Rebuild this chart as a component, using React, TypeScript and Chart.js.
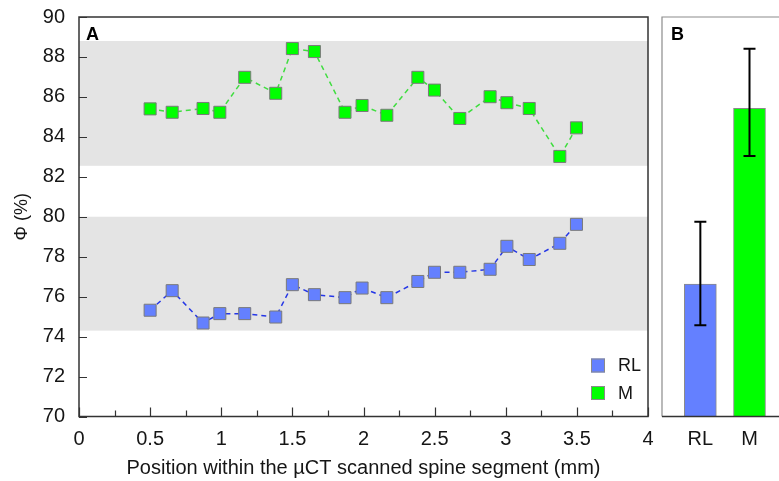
import React, { useEffect, useRef } from 'react';
import { Chart, registerables } from 'chart.js';

Chart.register(...registerables);

// ---------- data ----------
const positions = [0.5, 0.655, 0.872, 0.99, 1.165, 1.383, 1.5, 1.655, 1.87, 1.99, 2.164, 2.382, 2.499, 2.677, 2.89, 3.008, 3.165, 3.38, 3.497];
const rlValues = [75.32, 76.3, 74.68, 75.15, 75.15, 74.98, 76.6, 76.1, 75.95, 76.43, 75.95, 76.76, 77.22, 77.22, 77.37, 78.52, 77.86, 78.67, 79.62];
const mValues = [85.4, 85.23, 85.42, 85.23, 86.98, 86.18, 88.42, 88.27, 85.23, 85.57, 85.08, 86.98, 86.34, 84.92, 86.01, 85.71, 85.42, 83.02, 84.45];
const bandLow = [74.3, 82.55];
const bandHigh = [80.0, 88.8];
const categories = ['RL', 'M'];
const means = [76.63, 85.43];
const errLow = [74.57, 83.04];
const errHigh = [79.75, 88.41];
const seriesColors = ['#6480FF', '#00FF00'];
const lineColors = ['#2436E6', '#3FDD3F'];

const FONT = '"Liberation Sans", Arial, Helvetica, sans-serif';
const TEXT = '#151515';

const panelAPlugin = {
  id: 'panelA',
  beforeDatasetsDraw(chart: any) {
    const { ctx, chartArea, scales } = chart;
    const y = scales.y;
    ctx.save();
    ctx.fillStyle = '#E4E4E4';
    bandLow.forEach((lo, i) => {
      const top = y.getPixelForValue(bandHigh[i]);
      const bot = y.getPixelForValue(lo);
      ctx.fillRect(chartArea.left, top, chartArea.right - chartArea.left, bot - top);
    });
    ctx.restore();
  },
  afterDraw(chart: any) {
    const { ctx, chartArea, scales } = chart;
    const { x, y } = scales;
    ctx.save();
    // frame
    ctx.strokeStyle = '#333';
    ctx.lineWidth = 1.5;
    ctx.strokeRect(chartArea.left, chartArea.top, chartArea.right - chartArea.left, chartArea.bottom - chartArea.top);
    // inward ticks
    ctx.lineWidth = 1.2;
    ctx.beginPath();
    y.ticks.forEach((t: any) => {
      const py = Math.round(y.getPixelForValue(t.value)) + 0.5;
      ctx.moveTo(chartArea.left, py);
      ctx.lineTo(chartArea.left + 8, py);
    });
    x.ticks.forEach((t: any) => {
      const px = Math.round(x.getPixelForValue(t.value)) + 0.5;
      const major = Math.abs(t.value * 2 - Math.round(t.value * 2)) < 1e-6;
      ctx.moveTo(px, chartArea.bottom);
      ctx.lineTo(px, chartArea.bottom - (major ? 9 : 6));
    });
    ctx.stroke();
    // panel letter
    ctx.fillStyle = '#000';
    ctx.font = `bold 18px ${FONT}`;
    ctx.textBaseline = 'alphabetic';
    ctx.textAlign = 'left';
    ctx.fillText('A', chartArea.left + 7, chartArea.top + 23);
    // legend
    ctx.font = `18px ${FONT}`;
    ctx.textBaseline = 'middle';
    chart.data.datasets.forEach((ds: any, i: number) => {
      const cy = chartArea.bottom - 51 + i * 27.5;
      const cx = chartArea.right - 50;
      ctx.fillStyle = ds.pointBackgroundColor;
      ctx.fillRect(cx - 7, cy - 7, 14, 14);
      ctx.strokeStyle = '#8A8A8A';
      ctx.lineWidth = 1;
      ctx.strokeRect(cx - 7 + 0.5, cy - 7 + 0.5, 13, 13);
      ctx.fillStyle = TEXT;
      ctx.fillText(ds.label, cx + 20, cy + 1);
    });
    ctx.restore();
  },
};

const panelBPlugin = {
  id: 'panelB',
  afterDatasetsDraw(chart: any) {
    const { ctx, chartArea, scales } = chart;
    const { x, y } = scales;
    ctx.save();
    ctx.strokeStyle = '#000';
    ctx.lineWidth = 2;
    categories.forEach((_, i) => {
      const px = x.getPixelForValue(i + 1);
      const top = y.getPixelForValue(errHigh[i]);
      const bot = y.getPixelForValue(errLow[i]);
      ctx.beginPath();
      ctx.moveTo(px, top);
      ctx.lineTo(px, bot);
      ctx.moveTo(px - 6, top);
      ctx.lineTo(px + 6, top);
      ctx.moveTo(px - 6, bot);
      ctx.lineTo(px + 6, bot);
      ctx.stroke();
    });
    // frame: left + top grey, bottom dark
    ctx.strokeStyle = '#8C8C8C';
    ctx.lineWidth = 1.2;
    ctx.beginPath();
    ctx.moveTo(chartArea.left, chartArea.bottom);
    ctx.lineTo(chartArea.left, chartArea.top);
    ctx.lineTo(chartArea.right, chartArea.top);
    ctx.stroke();
    ctx.strokeStyle = '#333';
    ctx.lineWidth = 1.5;
    ctx.beginPath();
    ctx.moveTo(chartArea.left, chartArea.bottom);
    ctx.lineTo(chartArea.right, chartArea.bottom);
    ctx.stroke();
    ctx.fillStyle = '#000';
    ctx.font = `bold 18px ${FONT}`;
    ctx.textAlign = 'left';
    ctx.fillText('B', chartArea.left + 9, chartArea.top + 23);
    ctx.restore();
  },
};

export default function App() {
  const refA = useRef<HTMLCanvasElement>(null);
  const refB = useRef<HTMLCanvasElement>(null);

  useEffect(() => {
    document.body.style.margin = '0';
    Chart.defaults.font.family = FONT;
    Chart.defaults.color = TEXT;

    const seriesData = [rlValues, mValues];
    const chartA = new Chart(refA.current as HTMLCanvasElement, {
      type: 'scatter',
      data: {
        datasets: categories.map((label, k) => ({
          label,
          data: positions.map((p, i) => ({ x: p, y: seriesData[k][i] })),
          showLine: true,
          borderColor: lineColors[k],
          borderWidth: 1.5,
          borderDash: [5, 4],
          pointStyle: 'rect',
          pointRadius: 8.5,
          pointBackgroundColor: seriesColors[k],
          pointBorderColor: '#7A7A7A',
          pointBorderWidth: 1,
        })),
      },
      options: {
        animation: false,
        responsive: true,
        maintainAspectRatio: false,
        layout: { padding: { top: 17, right: 13, left: 0, bottom: 0 } },
        plugins: { legend: { display: false }, tooltip: { enabled: false } },
        scales: {
          x: {
            type: 'linear',
            min: 0,
            max: 4,
            grid: { display: false, drawTicks: false },
            border: { display: false },
            ticks: {
              stepSize: 0.25,
              autoSkip: false,
              maxRotation: 0,
              padding: 11,
              color: TEXT,
              font: { size: 20 },
              callback: (v: any) => (Math.abs(v * 2 - Math.round(v * 2)) < 1e-6 ? String(v) : ''),
            },
            title: {
              display: true,
              text: 'Position within the µCT scanned spine segment (mm)',
              color: TEXT,
              font: { size: 20 },
              padding: { top: 0, bottom: 1 },
            },
            afterFit: (s: any) => {
              s.height = 64.5;
              s.paddingLeft = 0;
              s.paddingRight = 0;
            },
          },
          y: {
            min: 70,
            max: 90,
            grid: { display: false, drawTicks: false },
            border: { display: false },
            ticks: { stepSize: 2, padding: 14, color: TEXT, font: { size: 20 } },
            title: {
              display: true,
              text: 'Φ (%)',
              color: TEXT,
              font: { size: 18 },
              padding: { top: 11, bottom: 0 },
            },
            afterFit: (s: any) => {
              s.width = 79;
              s.paddingTop = 0;
              s.paddingBottom = 0;
            },
          },
        },
      } as any,
      plugins: [panelAPlugin],
    });

    const chartB = new Chart(refB.current as HTMLCanvasElement, {
      type: 'bar',
      data: {
        datasets: [
          {
            label: 'mean',
            data: categories.map((_, i) => ({ x: i + 1, y: means[i] })),
            backgroundColor: seriesColors,
            borderColor: '#8A8A8A',
            borderWidth: 1,
            barThickness: 32,
          },
        ],
      },
      options: {
        animation: false,
        responsive: true,
        maintainAspectRatio: false,
        layout: { padding: { top: 17, right: 0, left: 22, bottom: 0 } },
        plugins: { legend: { display: false }, tooltip: { enabled: false } },
        scales: {
          x: {
            type: 'linear',
            min: 0.22,
            max: 2.6,
            offset: false,
            grid: { display: false, drawTicks: false },
            border: { display: false },
            afterBuildTicks: (s: any) => {
              s.ticks = categories.map((_, i) => ({ value: i + 1 }));
            },
            ticks: {
              autoSkip: false,
              maxRotation: 0,
              padding: 11,
              color: TEXT,
              font: { size: 20 },
              callback: (v: any) => categories[Math.round(v) - 1] ?? '',
            },
            afterFit: (s: any) => {
              s.height = 64.5;
              s.paddingLeft = 0;
              s.paddingRight = 0;
            },
          },
          y: {
            display: false,
            min: 70,
            max: 90,
          },
        },
      } as any,
      plugins: [panelBPlugin],
    });

    return () => {
      chartA.destroy();
      chartB.destroy();
    };
  }, []);

  return (
    <div style={{ position: 'relative', width: 779, height: 481, background: '#fff', overflow: 'hidden' }}>
      <div style={{ position: 'absolute', left: 0, top: 0, width: 661, height: 481 }}>
        <canvas ref={refA} />
      </div>
      <div style={{ position: 'absolute', left: 640, top: 0, width: 139, height: 481 }}>
        <canvas ref={refB} />
      </div>
    </div>
  );
}
